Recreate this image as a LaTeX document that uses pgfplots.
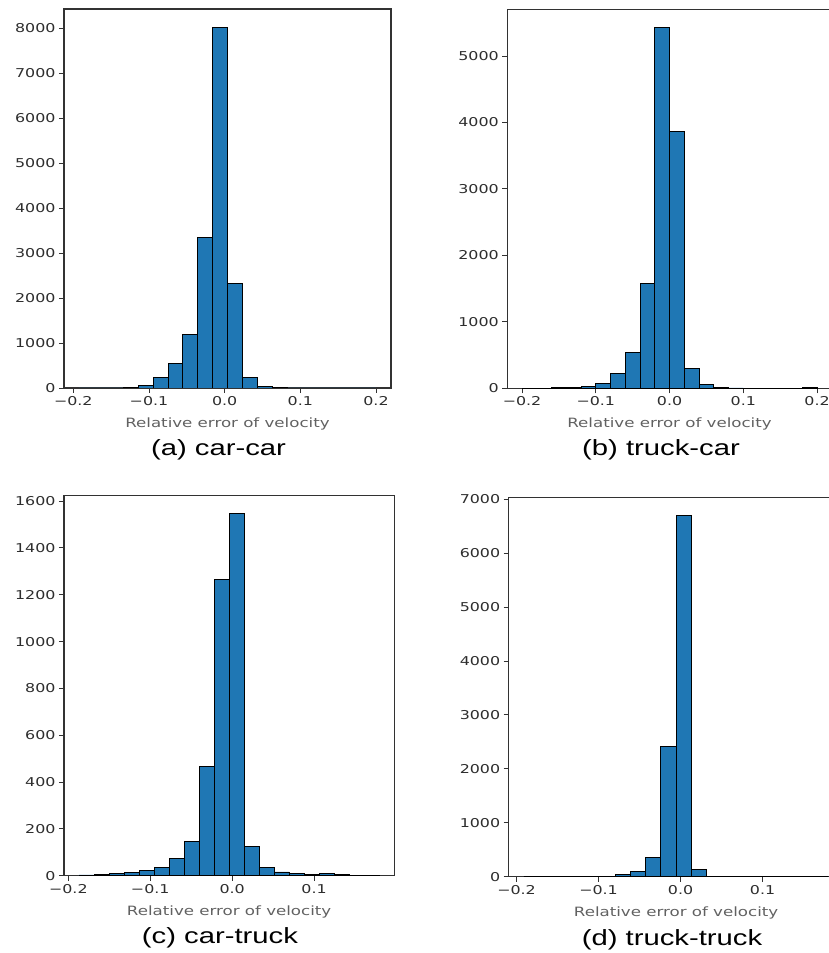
\documentclass[border=0pt]{standalone}
\usepackage{pgfplots}
\pgfplotsset{compat=1.18}
\usepackage{fontspec}
\setmainfont{DejaVu Sans}[FakeStretch=1.3]
\newfontfamily\capfont{Liberation Sans}[FakeStretch=1.33]
\definecolor{barblue}{RGB}{31,119,180}
\definecolor{spine}{RGB}{50,50,50}

\pgfplotsset{
  histo/.style={
    scale only axis,
    ymin=0,
    axis line style={line width=1.1pt, spine},
    tick style={line width=0.9pt, spine},
    tick align=outside,
    major tick length=5pt,
    xtick pos=bottom,
    ytick pos=left,
    x tick label as interval=false,
    scaled y ticks=false,
    /pgf/number format/assume math mode=true,
    /pgf/number format/1000 sep={},
    ticklabel style={font=\fontsize{12.2}{14}\selectfont, text=black!82},
    xlabel={Relative error of velocity},
    xlabel style={font=\fontsize{12.8}{15}\selectfont, text=black!62,
      at={(axis description cs:0.5,0)}, anchor=center, yshift=-36pt},
  },
  bars/.style={ybar interval, fill=barblue, draw=black, line width=0.8pt},
}

\begin{document}
\begin{tikzpicture}[x=1pt,y=1pt]

% (a) car-car
\begin{axis}[histo, at={(64pt,565pt)}, anchor=south west,
  width=327pt, height=379pt,
  xmin=-0.2123, xmax=0.2198, ymax=8431,
  xtick={-0.2,-0.1,0,0.1,0.2}, xticklabels={−0.2,−0.1,0.0,0.1,0.2},
  ytick={0,1000,...,8000}]
\addplot[bars] coordinates {
  (-0.1927,0) (-0.1730,0) (-0.1534,0) (-0.1337,15) (-0.1141,59)
  (-0.0945,244) (-0.0748,541) (-0.0552,1185) (-0.0355,3356) (-0.0159,8030)
  (0.0037,2319) (0.0234,244) (0.0430,30) (0.0627,12) (0.0823,0)
  (0.1020,0) (0.1216,0) (0.1412,0) (0.1609,0) (0.1805,0) (0.2002,0)};
\end{axis}

% (b) truck-car
\begin{axis}[histo, at={(507.3pt,564.7pt)}, anchor=south west,
  width=324.5pt, height=379pt,
  xmin=-0.22, xmax=0.22, ymax=5703,
  xtick={-0.2,-0.1,0,0.1,0.2}, xticklabels={−0.2,−0.1,0.0,0.1,0.2},
  ytick={0,1000,...,5000}]
\addplot[bars] coordinates {
  (-0.20,0) (-0.18,0) (-0.16,8) (-0.14,10) (-0.12,25)
  (-0.10,75) (-0.08,226) (-0.06,542) (-0.04,1575) (-0.02,5431)
  (0.00,3862) (0.02,296) (0.04,55) (0.06,10) (0.08,5)
  (0.10,0) (0.12,0) (0.14,0) (0.16,0) (0.18,12) (0.20,0)};
\end{axis}

% (c) car-truck
\begin{axis}[histo, at={(64pt,77.3pt)}, anchor=south west,
  width=330.3pt, height=380pt,
  xmin=-0.2053, xmax=0.198, ymax=1623,
  xtick={-0.2,-0.1,0,0.1}, xticklabels={−0.2,−0.1,0.0,0.1},
  ytick={0,200,...,1600}]
\addplot[bars] coordinates {
  (-0.1870,3) (-0.1686,4) (-0.1503,8) (-0.1320,14) (-0.1137,21)
  (-0.0953,34) (-0.0770,74) (-0.0587,148) (-0.0403,465) (-0.0220,1265)
  (-0.0037,1546) (0.0147,126) (0.0330,36) (0.0513,16) (0.0696,10)
  (0.0880,4) (0.1063,11) (0.1246,4) (0.1430,2) (0.1613,2) (0.1796,0)};
\end{axis}

% (d) truck-truck
\begin{axis}[histo, at={(508.7pt,76.3pt)}, anchor=south west,
  width=334.8pt, height=379.4pt,
  xmin=-0.2096, xmax=0.1987, ymax=7035,
  xtick={-0.2,-0.1,0,0.1}, xticklabels={−0.2,−0.1,0.0,0.1},
  ytick={0,1000,...,7000}]
\addplot[bars] coordinates {
  (-0.1910,0) (-0.1724,0) (-0.1539,0) (-0.1353,0) (-0.1168,0)
  (-0.0982,8) (-0.0796,37) (-0.0611,105) (-0.0425,358) (-0.0240,2409)
  (-0.0054,6700) (0.0132,142) (0.0317,12) (0.0503,0) (0.0688,0)
  (0.0874,0) (0.1060,0) (0.1245,0) (0.1431,0) (0.1616,0) (0.1802,0)};
\end{axis}

% panel captions
\node[font=\capfont\fontsize{22}{26}\selectfont] at (218.5,503) {(a) car-car};
\node[font=\capfont\fontsize{22}{26}\selectfont] at (661,503) {(b) truck-car};
\node[font=\capfont\fontsize{22}{26}\selectfont] at (220,15) {(c) car-truck};
\node[font=\capfont\fontsize{22}{26}\selectfont] at (672,13) {(d) truck-truck};

\pgfresetboundingbox
\path[use as bounding box] (0,0) rectangle (829,953);
\end{tikzpicture}
\end{document}
